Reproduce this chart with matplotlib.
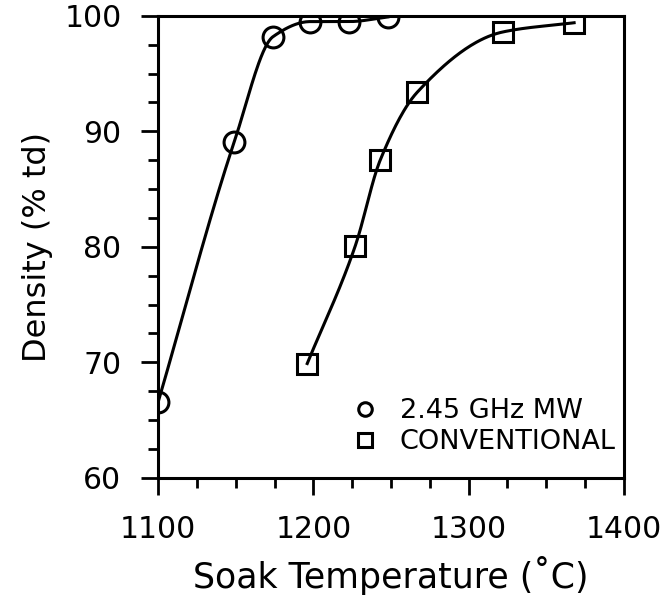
import numpy as np
import matplotlib
matplotlib.use("Agg")
import matplotlib.pyplot as plt
from matplotlib.ticker import MultipleLocator

plt.rcParams["font.family"] = ["DejaVu Sans"]

# 2.45 GHz microwave sintering
mw_temp = [1100, 1149, 1174, 1198, 1223, 1248]
mw_density = [66.6, 89.1, 98.2, 99.5, 99.5, 99.9]

# conventional sintering
conv_temp = [1196, 1227, 1243, 1267, 1322, 1368]
conv_density = [69.9, 80.1, 87.5, 93.4, 98.6, 99.4]


def pchip(x, y, n=200):
    # monotone cubic curve through the points
    x = np.asarray(x, float)
    y = np.asarray(y, float)
    h = np.diff(x)
    d = np.diff(y) / h
    m = np.zeros_like(y)
    for k in range(1, len(x) - 1):
        if d[k - 1] * d[k] > 0:
            w1 = 2 * h[k] + h[k - 1]
            w2 = h[k] + 2 * h[k - 1]
            m[k] = (w1 + w2) / (w1 / d[k - 1] + w2 / d[k])
    m[0] = d[0]
    m[-1] = d[-1]
    xs = np.linspace(x[0], x[-1], n)
    idx = np.clip(np.searchsorted(x, xs) - 1, 0, len(h) - 1)
    t = (xs - x[idx]) / h[idx]
    h00 = 2 * t**3 - 3 * t**2 + 1
    h10 = t**3 - 2 * t**2 + t
    h01 = -2 * t**3 + 3 * t**2
    h11 = t**3 - t**2
    ys = (h00 * y[idx] + h10 * h[idx] * m[idx]
          + h01 * y[idx + 1] + h11 * h[idx] * m[idx + 1])
    return xs, ys


fig = plt.figure(figsize=(6.65, 6.08), dpi=100)
ax = fig.add_axes([0.238, 0.214, 0.700, 0.760])

xs, ys = pchip(mw_temp, mw_density)
ax.plot(xs, ys, color="black", linewidth=2.2)
xs, ys = pchip(conv_temp, conv_density)
ax.plot(xs, ys, color="black", linewidth=2.2)

ax.plot(mw_temp, mw_density, "o", markersize=15, markerfacecolor="none",
        markeredgecolor="black", markeredgewidth=2.2, label="2.45 GHz MW")
ax.plot(conv_temp, conv_density, "s", markersize=14.5, markerfacecolor="none",
        markeredgecolor="black", markeredgewidth=2.2, label="CONVENTIONAL")

ax.set_xlim(1100, 1400)
ax.set_ylim(60, 100)
ax.xaxis.set_major_locator(MultipleLocator(100))
ax.xaxis.set_minor_locator(MultipleLocator(25))
ax.yaxis.set_major_locator(MultipleLocator(10))
ax.yaxis.set_minor_locator(MultipleLocator(2.5))
ax.tick_params(which="both", direction="out", width=2, labelsize=21.5,
               top=False, right=False)
ax.tick_params(which="major", length=12.5, pad=14)
ax.tick_params(which="minor", length=7)
for s in ax.spines.values():
    s.set_linewidth(2.2)

ax.set_xlabel("Soak Temperature (˚C)", fontsize=25, labelpad=9)
ax.set_ylabel("Density (% td)", fontsize=23, labelpad=8)

ax.legend(loc="upper left", bbox_to_anchor=(0.414, 0.172), frameon=False,
          fontsize=19.5, markerscale=0.65, handlelength=1.0, handletextpad=0.8,
          borderpad=0, borderaxespad=0, labelspacing=0.18)

fig.savefig("out.png", dpi=100)
